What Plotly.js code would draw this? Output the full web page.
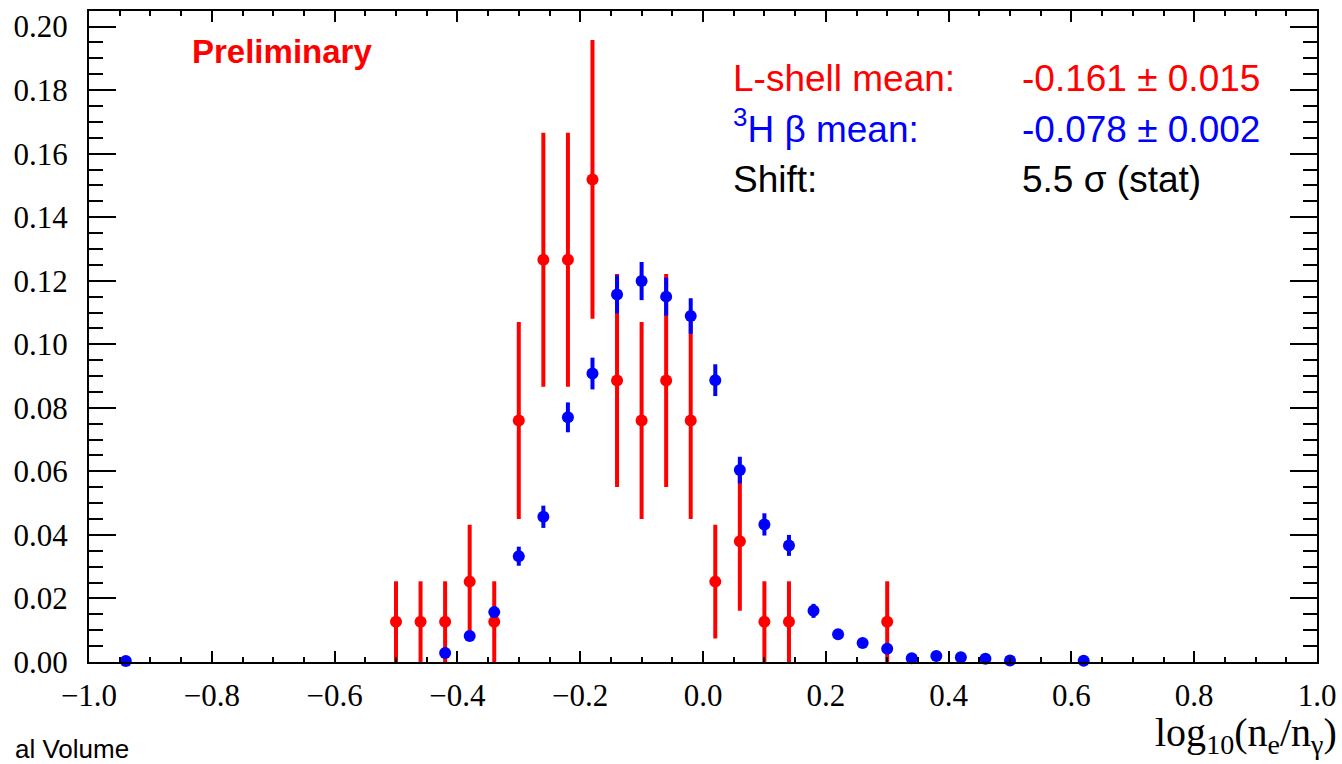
<!DOCTYPE html>
<html>
<head>
<meta charset="utf-8">
<script src="https://cdn.plot.ly/plotly-3.0.1.min.js"></script>
<style>html,body{margin:0;padding:0;background:#fff;}#chart{width:1342px;height:764px;}</style>
</head>
<body>
<div id="chart"></div>
<script>
// L-shell (red) histogram, normalised
const lshellX = [-0.50,-0.46,-0.42,-0.38,-0.34,-0.30,-0.26,-0.22,-0.18,-0.14,-0.10,-0.06,-0.02,0.02,0.06,0.10,0.14,0.30];
const lshellY = [0.0127,0.0127,0.0127,0.0253,0.0127,0.0760,0.1266,0.1266,0.1519,0.0886,0.0760,0.0886,0.0760,0.0253,0.0380,0.0127,0.0127,0.0127];
const lshellErr = [0.0127,0.0127,0.0127,0.0179,0.0127,0.0310,0.0400,0.0400,0.0439,0.0335,0.0310,0.0335,0.0310,0.0179,0.0219,0.0127,0.0127,0.0127];

// 3H beta (blue) histogram, normalised
const tritiumX = [-0.94,-0.42,-0.38,-0.34,-0.30,-0.26,-0.22,-0.18,-0.14,-0.10,-0.06,-0.02,0.02,0.06,0.10,0.14,0.18,0.22,0.26,0.30,0.34,0.38,0.42,0.46,0.50,0.62];
const tritiumY = [0.0003,0.0028,0.0082,0.0157,0.0333,0.0457,0.0770,0.0908,0.1157,0.1199,0.1150,0.1089,0.0887,0.0604,0.0433,0.0367,0.0161,0.0087,0.0060,0.0042,0.0012,0.0019,0.0015,0.0010,0.0005,0.0004];
const tritiumErr = [0.0003,0.0008,0.0012,0.0017,0.0030,0.0035,0.0047,0.0050,0.0060,0.0060,0.0060,0.0056,0.0050,0.0042,0.0035,0.0033,0.0022,0.0016,0.0013,0.0011,0.0006,0.0007,0.0006,0.0005,0.0004,0.0003];

// tick labels
const xTickVals = [-1.0,-0.8,-0.6,-0.4,-0.2,0.0,0.2,0.4,0.6,0.8,1.0];
const xTickText = ['\u22121.0','\u22120.8','\u22120.6','\u22120.4','\u22120.2','0.0','0.2','0.4','0.6','0.8','1.0'];
const yTickVals = [0.00,0.02,0.04,0.06,0.08,0.10,0.12,0.14,0.16,0.18,0.20];
const yTickText = ['0.00','0.02','0.04','0.06','0.08','0.10','0.12','0.14','0.16','0.18','0.20'];

// texts
const prelimText = '<b>Preliminary</b>';
const labelTexts = ['L-shell mean:', '<sup>3</sup>H \u03b2 mean:', 'Shift:'];
const valueTexts = ['-0.161 \u00b1 0.015', '-0.078 \u00b1 0.002', '5.5 \u03c3 (stat)'];
const textColors = ['#ff0000', '#0000ff', '#000000'];
const xTitleText = 'log<sub>10</sub>(n<sub>e</sub>/n<sub>\u03b3</sub>)';
const cornerText = 'al Volume';

// layout geometry (pixels)
const W = 1342, H = 764;
const M = {l: 89, r: 25, t: 11, b: 102};
const PW = W - M.l - M.r, PH = H - M.t - M.b;
const px = v => (v - M.l) / PW;
const py = v => (H - M.b - v) / PH;

const traces = [
  {
    type: 'scatter', mode: 'markers', name: 'L-shell',
    x: lshellX, y: lshellY,
    error_y: {type: 'data', array: lshellErr, visible: true, color: '#ff0000', thickness: 4, width: 0},
    marker: {color: '#ff0000', size: 12, line: {width: 0}},
    cliponaxis: false, showlegend: false, hoverinfo: 'x+y'
  },
  {
    type: 'scatter', mode: 'markers', name: '3H beta',
    x: tritiumX, y: tritiumY,
    error_y: {type: 'data', array: tritiumErr, visible: true, color: '#0000ff', thickness: 4, width: 0},
    marker: {color: '#0000ff', size: 12, line: {width: 0}},
    cliponaxis: false, showlegend: false, hoverinfo: 'x+y'
  }
];

const sans = 'Liberation Sans, Arial, sans-serif';
const serif = 'Liberation Serif, Times New Roman, serif';

const annotations = [];
annotations.push({
  text: prelimText, xref: 'paper', yref: 'paper', x: px(190), y: py(72),
  xanchor: 'left', yanchor: 'bottom', showarrow: false,
  font: {family: sans, size: 33, color: '#ff0000'}
});
const rowBottoms = [100.5, 151.5, 202];
for (let i = 0; i < 3; i++) {
  annotations.push({
    text: labelTexts[i], xref: 'paper', yref: 'paper', x: px(731), y: py(rowBottoms[i]),
    xanchor: 'left', yanchor: 'bottom', showarrow: false,
    font: {family: sans, size: 37, color: textColors[i]}
  });
  annotations.push({
    text: valueTexts[i], xref: 'paper', yref: 'paper', x: px(1020), y: py(rowBottoms[i]),
    xanchor: 'left', yanchor: 'bottom', showarrow: false,
    font: {family: sans, size: 37, color: textColors[i]}
  });
}
annotations.push({
  text: xTitleText, xref: 'paper', yref: 'paper', x: px(1339), y: py(708),
  xanchor: 'right', yanchor: 'top', showarrow: false,
  font: {family: serif, size: 40, color: '#000000'}
});
annotations.push({
  text: cornerText, xref: 'paper', yref: 'paper', x: px(131), y: py(766),
  xanchor: 'right', yanchor: 'bottom', showarrow: false,
  font: {family: sans, size: 26, color: '#000000'}
});

const layout = {
  width: W, height: H,
  margin: M,
  paper_bgcolor: '#ffffff', plot_bgcolor: '#ffffff',
  showlegend: false,
  xaxis: {
    range: [-1, 1], showgrid: false, zeroline: false,
    showline: true, linecolor: '#000', linewidth: 2, mirror: 'allticks',
    ticks: 'inside', ticklen: 11, tickwidth: 2, tickcolor: '#000',
    tickmode: 'array', tickvals: xTickVals, ticktext: xTickText,
    ticklabelstandoff: 5,
    tickfont: {family: serif, size: 31, color: '#000'},
    minor: {ticks: 'inside', ticklen: 5, tickwidth: 2, tickcolor: '#000', dtick: 0.05, showgrid: false},
    fixedrange: true
  },
  yaxis: {
    range: [0, 0.2049], showgrid: false, zeroline: false,
    showline: true, linecolor: '#000', linewidth: 2, mirror: 'allticks',
    ticks: 'inside', ticklen: 27, tickwidth: 2, tickcolor: '#000',
    tickmode: 'array', tickvals: yTickVals, ticktext: yTickText,
    ticklabelstandoff: 13,
    tickfont: {family: serif, size: 31, color: '#000'},
    minor: {ticks: 'inside', ticklen: 14, tickwidth: 2, tickcolor: '#000', dtick: 0.005, showgrid: false},
    fixedrange: true
  },
  annotations: annotations
};

Plotly.newPlot('chart', traces, layout, {displayModeBar: false, staticPlot: true});
</script>
</body>
</html>
